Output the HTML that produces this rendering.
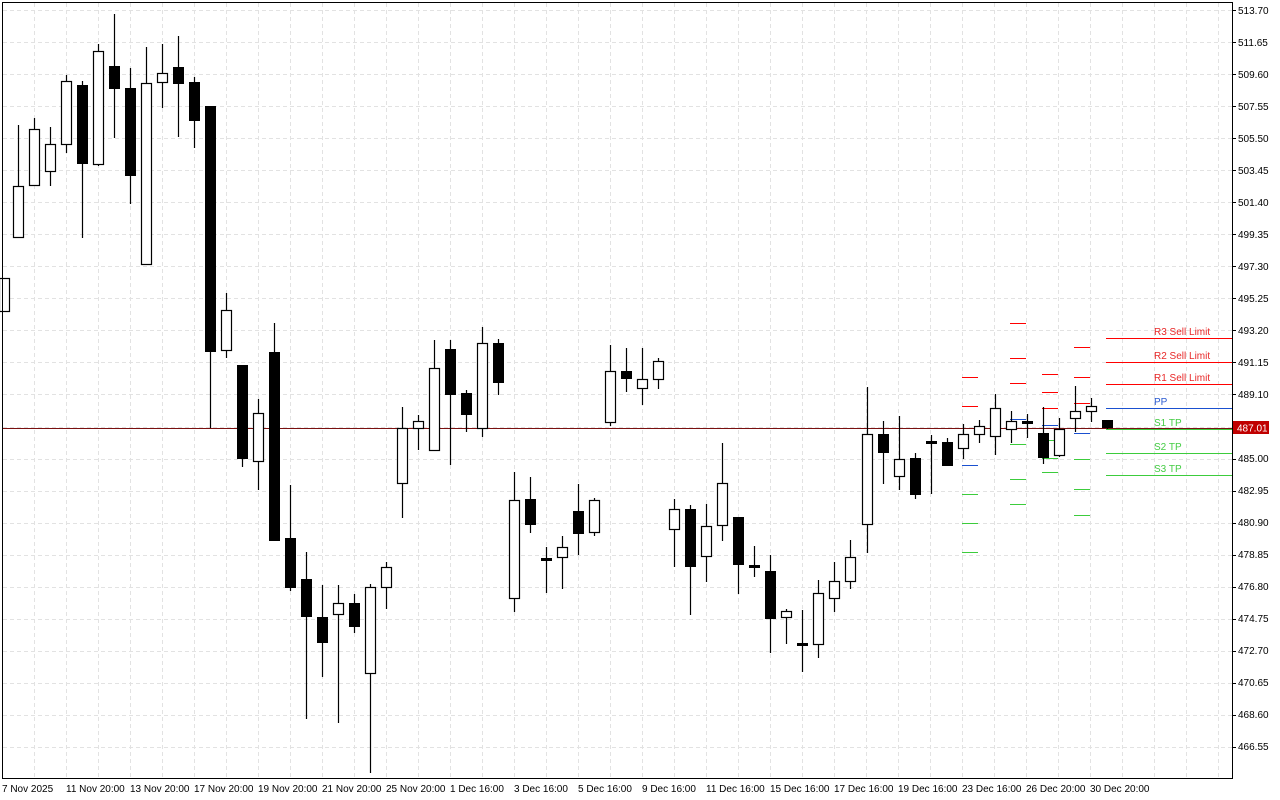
<!DOCTYPE html>
<html><head><meta charset="utf-8"><style>
html,body{margin:0;padding:0;background:#fff;}
svg{display:block;font-family:"Liberation Sans",sans-serif;}
</style></head><body>
<svg id="s" width="1280" height="800" viewBox="0 0 1280 800" xmlns="http://www.w3.org/2000/svg">
<g id="grid"></g>
<line x1="2" y1="428.5" x2="1232" y2="428.5" stroke="#7a1010" stroke-width="1"/>
<g id="piv"></g>
<g id="cd"></g>
<rect x="2.5" y="2.5" width="1230" height="776" fill="none" stroke="#000"/>
<g font-size="10" fill="#000" id="pl">
<text x="1238" y="14">513.70</text><text x="1238" y="46">511.65</text><text x="1238" y="78">509.60</text><text x="1238" y="110">507.55</text><text x="1238" y="142">505.50</text><text x="1238" y="174">503.45</text><text x="1238" y="206">501.40</text><text x="1238" y="238">499.35</text><text x="1238" y="270">497.30</text><text x="1238" y="302">495.25</text><text x="1238" y="334">493.20</text><text x="1238" y="366">491.15</text><text x="1238" y="398">489.10</text><text x="1238" y="462">485.00</text><text x="1238" y="494">482.95</text><text x="1238" y="526">480.90</text><text x="1238" y="558">478.85</text><text x="1238" y="590">476.80</text><text x="1238" y="622">474.75</text><text x="1238" y="654">472.70</text><text x="1238" y="686">470.65</text><text x="1238" y="718">468.60</text><text x="1238" y="750">466.55</text>
</g>
<rect x="1233" y="421" width="36" height="13" fill="#c00000"/>
<text x="1237" y="431.5" font-size="10" fill="#fff">487.01</text>
<g font-size="10" fill="#000">
<text x="2" y="792">7 Nov 2025</text><text x="66" y="792">11 Nov 20:00</text><text x="130" y="792">13 Nov 20:00</text><text x="194" y="792">17 Nov 20:00</text><text x="258" y="792">19 Nov 20:00</text><text x="322" y="792">21 Nov 20:00</text><text x="386" y="792">25 Nov 20:00</text><text x="450" y="792">1 Dec 16:00</text><text x="514" y="792">3 Dec 16:00</text><text x="578" y="792">5 Dec 16:00</text><text x="642" y="792">9 Dec 16:00</text><text x="706" y="792">11 Dec 16:00</text><text x="770" y="792">15 Dec 16:00</text><text x="834" y="792">17 Dec 16:00</text><text x="898" y="792">19 Dec 16:00</text><text x="962" y="792">23 Dec 16:00</text><text x="1026" y="792">26 Dec 20:00</text><text x="1090" y="792">30 Dec 20:00</text>
</g>
<g font-size="10">
<text x="1154" y="335" fill="#e82828">R3 Sell Limit</text>
<text x="1154" y="359" fill="#e82828">R2 Sell Limit</text>
<text x="1154" y="381" fill="#e82828">R1 Sell Limit</text>
<text x="1154" y="405" fill="#2a5ad0">PP</text>
<text x="1154" y="426" fill="#44cc44">S1 TP</text>
<text x="1154" y="450" fill="#44cc44">S2 TP</text>
<text x="1154" y="472" fill="#44cc44">S3 TP</text>
</g>
</svg>
<script>
var NS="http://www.w3.org/2000/svg";
function el(p,t,a){var e=document.createElementNS(NS,t);for(var k in a)e.setAttribute(k,a[k]);p.appendChild(e);return e;}
var g=document.getElementById('grid');
for(var x=34;x<1232;x+=32)el(g,'line',{x1:x+.5,y1:3,x2:x+.5,y2:778,stroke:'#e2e2e2','stroke-dasharray':'4,3'});
for(var i=0;i<24;i++){var y=Math.round(10+32.04*i)+.5;el(g,'line',{x1:3,y1:y,x2:1232,y2:y,stroke:'#e2e2e2','stroke-dasharray':'4,3'});el(g,'line',{x1:1232,y1:y,x2:1236,y2:y,stroke:'#000'});}
// x, white?, bodyTop, bodyBot, wickTop, wickBot
var C=[[4,1,278,311,278,311],[18,1,186,237,125,238],[34,1,129,185,118,185],[50,1,144,171,127,186],[66,1,81,144,75,153],[82,0,85,163,81,238],[98,1,51,164,44,166],[114,0,66,88,14,138],[130,0,88,175,68,204],[146,1,83,264,47,265],[162,1,73,82,44,108],[178,0,67,83,36,137],[194,0,82,120,77,148],[210,0,106,351,106,428],[226,1,310,350,293,358],[242,0,365,458,365,467],[258,1,413,461,399,490],[274,0,352,540,323,541],[290,0,538,587,485,591],[306,0,579,616,552,719],[322,0,617,642,585,677],[338,1,603,614,585,723],[354,0,603,626,594,633],[370,1,587,673,584,773],[386,1,567,587,562,609],[402,1,428,483,407,518],[418,1,421,428,415,450],[434,1,368,450,340,450],[450,0,349,394,340,465],[466,0,393,414,390,432],[482,1,343,428,327,437],[498,0,343,382,339,395],[514,1,500,598,472,612],[530,0,499,524,477,533],[546,0,558,560,547,593],[562,1,547,557,536,589],[578,0,511,533,484,555],[594,1,500,532,498,536],[610,1,371,422,345,426],[626,0,371,378,348,392],[642,1,379,388,348,405],[658,1,361,379,358,389],[674,1,509,529,499,567],[690,0,509,566,505,615],[706,1,526,556,504,582],[722,1,483,525,443,541],[738,0,517,564,517,594],[754,0,565,567,546,577],[770,0,571,618,555,653],[786,1,611,617,609,644],[802,0,643,645,610,672],[818,1,593,644,580,658],[834,1,581,598,562,612],[850,1,557,581,540,589],[867,1,434,524,387,553],[883,0,434,452,421,484],[899,1,459,476,416,490],[915,0,458,494,453,499],[931,0,441,443,435,494],[947,0,442,465,438,466],[963,1,434,448,424,459],[979,1,426,434,420,443],[995,1,408,436,394,455],[1011,1,421,429,411,443],[1027,0,421,423,414,438],[1043,0,433,457,407,464],[1059,1,429,455,418,457],[1075,1,411,418,386,432],[1091,1,406,411,398,422],[1107,0,420,427,420,429]];
var cd=document.getElementById('cd');
C.forEach(function(c){var x=c[0];
el(cd,'line',{x1:x+.5,y1:c[4],x2:x+.5,y2:c[5],stroke:'#000','stroke-width':1.2});
var h=Math.max(c[3]-c[2],1);
if(c[1])el(cd,'rect',{x:x-4.5,y:c[2]+.5,width:10,height:h,fill:'#fff',stroke:'#000','stroke-width':1.2});
else el(cd,'rect',{x:x-5,y:c[2],width:11,height:h+1,fill:'#000'});
});
var pv=document.getElementById('piv');
var R='#ff0000',B='#1a50d0',G='#3ccc3c';
var P=[[962,[[377,R],[406,R],[465,B],[494,G],[523,G],[552,G]]],[1010,[[323,R],[358,R],[383,R],[419,B],[444,G],[479,G],[504,G]]],[1042,[[374,R],[392,R],[408,R],[425,B],[440,G],[458,G],[472,G]]],[1074,[[347,R],[377,R],[403,R],[433,B],[459,G],[489,G],[515,G]]]];
P.forEach(function(p){p[1].forEach(function(l){el(pv,'line',{x1:p[0],y1:l[0]+.5,x2:p[0]+16,y2:l[0]+.5,stroke:l[1]});});});
[[338,R],[362,R],[384,R],[408,B],[429,G],[453,G],[475,G]].forEach(function(l){el(pv,'line',{x1:1106,y1:l[0]+.5,x2:1232,y2:l[0]+.5,stroke:l[1]});});
</script>
</body></html>
